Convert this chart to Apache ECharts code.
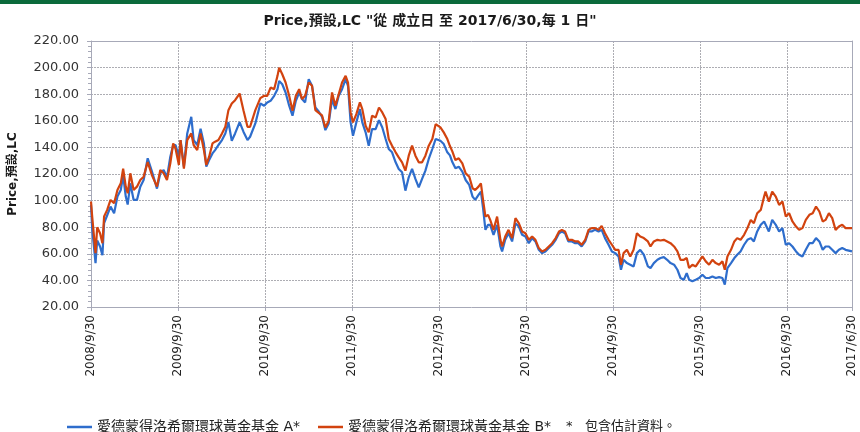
<!DOCTYPE html>
<html>
<head>
<meta charset="utf-8">
<script src="https://cdn.jsdelivr.net/npm/echarts@6/dist/echarts.min.js"></script>
<style>
  html, body { margin: 0; padding: 0; background: #ffffff; }
  #chart { width: 860px; height: 432px; }
</style>
</head>
<body>
<div id="chart"></div>
<script>
// Price history of the two share classes, sampled roughly twice a month.
const tradeDates = [
  '2008-09-30','2008-10-05','2008-10-19','2008-10-26','2008-11-07','2008-11-17','2008-11-24','2008-12-07','2008-12-21',
  '2009-01-05','2009-01-19','2009-02-02','2009-02-12','2009-02-23','2009-03-03','2009-03-14','2009-03-21','2009-03-28','2009-04-11','2009-04-25','2009-05-09','2009-05-26','2009-06-13','2009-07-04','2009-07-18','2009-08-01','2009-08-15','2009-08-29','2009-09-10','2009-09-20','2009-10-04','2009-10-11','2009-10-25','2009-11-08','2009-11-25','2009-12-05','2009-12-20',
  '2010-01-03','2010-01-17','2010-01-27','2010-02-08','2010-02-22','2010-03-05','2010-03-19','2010-04-03','2010-04-17','2010-04-30','2010-05-14','2010-05-28','2010-06-16','2010-07-02','2010-07-19','2010-07-30','2010-08-21','2010-09-11','2010-09-27','2010-10-10','2010-10-24','2010-11-08','2010-11-22','2010-11-29','2010-12-12','2010-12-26',
  '2011-01-10','2011-01-24','2011-02-07','2011-02-21','2011-03-05','2011-03-18','2011-04-02','2011-04-16','2011-04-30','2011-05-14','2011-05-28','2011-06-11','2011-06-25','2011-07-09','2011-07-23','2011-08-06','2011-08-20','2011-09-04','2011-09-14','2011-09-25','2011-10-05','2011-10-19','2011-11-03','2011-11-13','2011-11-27','2011-12-10','2011-12-24',
  '2012-01-08','2012-01-22','2012-02-05','2012-02-19','2012-03-03','2012-03-17','2012-04-01','2012-04-14','2012-04-28','2012-05-12','2012-05-26','2012-06-09','2012-06-23','2012-07-07','2012-07-21','2012-08-04','2012-08-18','2012-09-02','2012-09-16','2012-09-23','2012-10-06','2012-10-20','2012-11-04','2012-11-15','2012-11-25','2012-12-08','2012-12-22',
  '2013-01-06','2013-01-20','2013-02-04','2013-02-18','2013-03-01','2013-03-15','2013-03-25','2013-04-03','2013-04-13','2013-04-24','2013-05-03','2013-05-17','2013-06-01','2013-06-15','2013-06-22','2013-07-05','2013-07-19','2013-08-03','2013-08-17','2013-08-31','2013-09-14','2013-09-28','2013-10-12','2013-10-26','2013-11-09','2013-11-23','2013-12-07','2013-12-21',
  '2014-01-04','2014-01-18','2014-02-02','2014-02-16','2014-02-28','2014-03-13','2014-03-27','2014-04-11','2014-04-25','2014-05-08','2014-05-22','2014-06-06','2014-06-20','2014-07-03','2014-07-17','2014-08-01','2014-08-14','2014-08-28','2014-09-12','2014-09-26','2014-10-10','2014-10-24','2014-11-03','2014-11-14','2014-11-28','2014-12-12','2014-12-26',
  '2015-01-09','2015-01-23','2015-02-07','2015-02-24','2015-03-07','2015-03-21','2015-04-05','2015-04-18','2015-05-02','2015-05-16','2015-05-30','2015-06-14','2015-06-28','2015-07-11','2015-07-25','2015-08-06','2015-08-16','2015-08-30','2015-09-13','2015-09-27','2015-10-11','2015-10-25','2015-11-08','2015-11-22','2015-12-06','2015-12-20',
  '2016-01-03','2016-01-13','2016-01-24','2016-02-08','2016-02-22','2016-03-05','2016-03-19','2016-04-03','2016-04-17','2016-05-01','2016-05-14','2016-05-28','2016-06-12','2016-06-26','2016-07-02','2016-07-16','2016-07-30','2016-08-14','2016-08-28','2016-09-11','2016-09-25','2016-10-09','2016-10-23','2016-11-07','2016-11-20','2016-12-04','2016-12-18',
  '2017-01-02','2017-01-16','2017-01-30','2017-02-13','2017-02-27','2017-03-11','2017-03-25','2017-04-08','2017-04-22','2017-05-06','2017-05-20','2017-06-03','2017-06-30'
];

// Share class A (blue)
const fundA = [
  97, 79, 53, 70, 65.5, 59, 83, 89, 95.5,
  90.5, 103, 108, 119, 103, 97, 113, 114, 100.5, 100.5, 110.5, 115.5, 131.8, 121.8, 109, 120.5, 123, 117.5, 133, 141.8, 141.8, 133, 145.5, 125.5, 150.5, 163, 145.5, 141.8,
  154, 143, 125.5, 130.5, 135.5, 138, 141.8, 145.5, 150.5, 159, 145, 150.5, 159, 151.8, 145.5, 148, 158, 173, 171.3, 173.8, 175, 178.8, 183.8, 190, 187.5, 181.3,
  171.3, 163.8, 175, 181.3, 176.3, 173.8, 191.3, 186.3, 170, 167, 163, 153, 158, 176.3, 168.8, 178.8, 183.8, 191.3, 186.3, 158.8, 148.8, 158.8, 168.8, 158.8, 151.3, 141.3, 153.8,
  153.8, 160.5, 155, 146.3, 138.8, 136.3, 128.8, 123.8, 121.3, 107.5, 117.5, 123.8, 116.3, 110, 116.3, 122.5, 131.3, 138.8, 146.3, 147.5, 145, 142.5, 136.3, 134, 129, 124.3, 125.5,
  121.8, 115.5, 111.8, 103, 100.5, 104.3, 106.8, 94.3, 78, 81.8, 81.8, 74.3, 81.8, 65.5, 61.8, 70.5, 75.5, 69.3, 83, 80.5, 74.3, 73, 68, 71.8, 69.3, 63, 60.5, 61.8,
  64.3, 66.8, 70.5, 75.5, 76.8, 75.5, 69.3, 69.3, 68, 68, 65.5, 69.3, 76.8, 76.8, 78, 76.8, 78, 71.8, 66.8, 61.8, 60.5, 58, 48, 55.5, 53, 51.8, 50.5,
  60.5, 63, 59.3, 50.5, 49.3, 53, 55.5, 56.8, 57.5, 55.5, 53, 51.8, 48, 41.8, 40.5, 45.5, 40.5, 39.3, 40.5, 41.8, 44.3, 41.8, 41.8, 43, 41.8, 42.5,
  41.8, 36.8, 49.3, 53, 56.8, 59.3, 61.8, 66.8, 70.5, 71.8, 69.3, 76.8, 81.8, 84.3, 83, 76.8, 85.5, 81.8, 76.8, 79.3, 66.8, 68, 65.5, 61.8, 59.3, 58, 63,
  68, 68, 71.8, 69.3, 63, 65.5, 65.5, 63, 60.5, 63, 64.3, 63, 61.8
];

// Share class B (red)
const fundB = [
  99.3, 88, 60.5, 80, 75.5, 68, 88, 93, 100.5,
  98, 108, 113, 124, 110.5, 105.5, 120.5, 122, 108, 110.5, 115.5, 118, 129, 119, 110.5, 123, 120.5, 115.5, 128, 143, 139, 126.8, 145.5, 124, 145.5, 150.5, 141.8, 138,
  150.5, 138, 126.8, 133, 143, 144.3, 145.5, 150.5, 155.5, 168, 173, 175.5, 180.5, 168, 155.5, 155.5, 168, 177, 178.8, 178.8, 185, 183.8, 193.8, 200, 195, 188.8,
  178.8, 167.5, 178.8, 183.8, 176.3, 178.8, 188.8, 186.3, 168, 166, 164, 155, 160, 181.3, 171.3, 180, 188.8, 193.8, 188.8, 166.3, 158.8, 165, 173.8, 168.8, 156.3, 151.3, 163.8,
  162.5, 170, 166.3, 161.3, 146.3, 141.3, 136.3, 132.5, 128.8, 122.5, 133.8, 141.3, 133.8, 128.8, 128.8, 133.8, 141.3, 146.3, 157.5, 158.8, 155, 151.3, 146.3, 141, 137, 130.5, 131.8,
  128, 120.5, 118, 109.3, 108, 110.5, 113, 100.5, 88, 89.3, 85.5, 78, 88, 70.5, 65.5, 73, 78, 71.8, 86.8, 83, 76.8, 75.5, 70.5, 73, 70.5, 64.3, 61.8, 63,
  65.5, 68, 71.8, 76.8, 78, 76.8, 70.5, 70.5, 69.3, 69.3, 66.8, 70.5, 78, 79.3, 79.3, 78, 81, 75.5, 70.5, 66.8, 63, 63, 51.8, 60.5, 63, 58, 63,
  75.5, 73, 71.8, 69.3, 65.5, 69.3, 70.5, 70, 70.5, 69.3, 68, 65.5, 61.8, 55.5, 55.5, 56.8, 49.3, 51.8, 50.5, 54.3, 58, 54.3, 51.8, 55.5, 53, 51.8,
  54.3, 48, 58, 63, 69.3, 71.8, 70.5, 74.3, 79.3, 85.5, 83, 90.5, 93, 103, 106.8, 99.3, 106.8, 103, 96.8, 99.3, 88, 90.5, 84.3, 80.5, 78, 79.3, 85.5,
  89.3, 90.5, 95.5, 91.8, 84.3, 85.5, 90.5, 86.8, 78, 80.5, 81.8, 79.3, 79.3
];

// Dates labelled along the bottom axis
const axisDates = ['2008-09-30','2009-09-30','2010-09-30','2011-09-30','2012-09-30','2013-09-30','2014-09-30','2015-09-30','2016-09-30','2017-06-30'];

const seriesNames = ['愛德蒙得洛希爾環球黃金基金 A*', '愛德蒙得洛希爾環球黃金基金 B*'];
const chartTitle = 'Price,預設,LC "從 成立日 至 2017/6/30,每 1 日"';
const valueAxisName = 'Price,預設,LC';
const footNote = '*   包含估計資料。';

const FONT = '"DejaVu Sans", "Noto Sans CJK TC", sans-serif';
const AXIS_GREY = '#a7a9b8';
const GRID_GREY = '#adadb3';

const toTime = s => echarts.number.parseDate(s).getTime();
const fmtDate = v => { const d = new Date(v); return d.getFullYear() + '/' + (d.getMonth() + 1) + '/' + d.getDate(); };
const tickTimes = axisDates.map(toTime);
const dateTimes = tradeDates.map(toTime);

const chart = echarts.init(document.getElementById('chart'), null, { renderer: 'canvas' });

// Frame-only axes on the top and right close the plot box.
const frameAxis = {
  show: true,
  axisLine: { show: true, onZero: false, lineStyle: { color: AXIS_GREY } },
  axisTick: { show: false },
  axisLabel: { show: false },
  splitLine: { show: false }
};

const gridLineStyle = { color: GRID_GREY, type: [2, 1], width: 1, opacity: 1 };

chart.setOption({
  animation: false,
  backgroundColor: '#ffffff',
  textStyle: { fontFamily: FONT },
  title: {
    text: chartTitle,
    left: 'center',
    top: 9,
    textStyle: { fontFamily: FONT, fontSize: 14, fontWeight: 'bold', color: '#1a1a1a' }
  },
  graphic: [
    { type: 'rect', left: 0, top: 0, shape: { width: 860, height: 4 }, style: { fill: '#0b6a3b' } },
    { type: 'text', left: 566, top: 420, style: { text: footNote, font: '13px ' + FONT, fill: '#222' } }
  ],
  legend: {
    left: 62,
    top: 415,
    icon: 'rect',
    itemWidth: 25,
    itemHeight: 2.5,
    itemGap: 18,
    textStyle: { fontFamily: FONT, fontSize: 14, color: '#222' },
    data: seriesNames
  },
  grid: {
    left: 91, right: 8, top: 41, bottom: 125,
    outerBoundsMode: 'none'
  },
  xAxis: [
    {
      type: 'value',
      min: tickTimes[0],
      max: tickTimes[tickTimes.length - 1],
      axisLine: { onZero: false, lineStyle: { color: AXIS_GREY } },
      axisTick: { show: true, length: 4, customValues: tickTimes, lineStyle: { color: AXIS_GREY } },
      axisLabel: {
        customValues: tickTimes,
        rotate: 90,
        margin: 8,
        fontSize: 12,
        color: '#222',
        fontFamily: FONT,
        formatter: fmtDate
      },
      splitLine: { show: true, lineStyle: gridLineStyle }
    },
    Object.assign({ type: 'value', position: 'top', min: tickTimes[0], max: tickTimes[tickTimes.length - 1] }, frameAxis)
  ],
  yAxis: [
    {
      type: 'value',
      min: 20,
      max: 220,
      interval: 20,
      name: valueAxisName,
      nameLocation: 'middle',
      nameGap: 72,
      nameTextStyle: { fontFamily: FONT, fontSize: 12, fontWeight: 'bold', color: '#1a1a1a' },
      axisLine: { show: true, onZero: false, lineStyle: { color: AXIS_GREY } },
      axisTick: { show: true, length: 4, lineStyle: { color: AXIS_GREY } },
      minorTick: { show: true, splitNumber: 5, length: 3, lineStyle: { color: AXIS_GREY } },
      axisLabel: { fontSize: 13, color: '#333', margin: 12, fontFamily: FONT, formatter: v => v.toFixed(2) },
      splitLine: { show: true, lineStyle: gridLineStyle }
    },
    Object.assign({ type: 'value', position: 'right', min: 20, max: 220, interval: 20 }, frameAxis)
  ],
  series: [
    {
      name: seriesNames[0],
      type: 'line',
      symbol: 'none',
      color: '#2e6dcc',
      lineStyle: { width: 2.2, color: '#2e6dcc' },
      data: dateTimes.map((t, i) => [t, fundA[i]])
    },
    {
      name: seriesNames[1],
      type: 'line',
      symbol: 'none',
      color: '#d2430f',
      lineStyle: { width: 2.2, color: '#d2430f' },
      data: dateTimes.map((t, i) => [t, fundB[i]])
    }
  ]
});
</script>
</body>
</html>
